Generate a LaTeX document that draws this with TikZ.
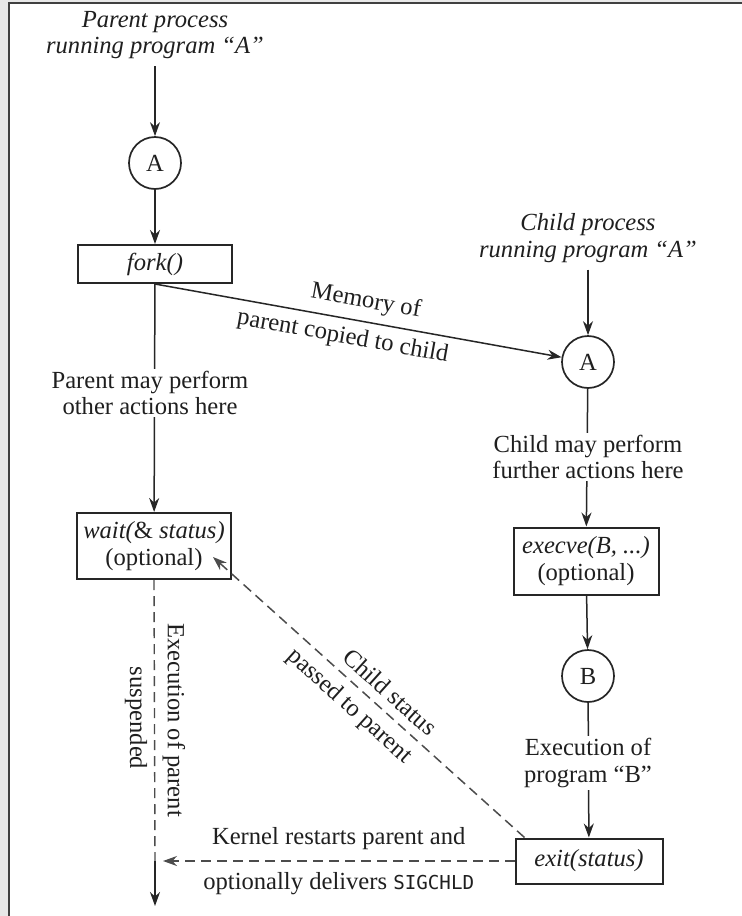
\documentclass[tikz,border=0pt]{standalone}
\usepackage{fontspec}
\setmainfont{Liberation Serif}
\newfontfamily\codefont{DejaVu Sans Mono}[Scale=0.78]
\usetikzlibrary{arrows.meta,calc}
\begin{document}
\begin{tikzpicture}[x=0.5pt,y=-0.5pt,
  font=\fontsize{12.3}{13.4}\selectfont,
  every node/.style={text=black!88, align=center},
  procbox/.style={draw=black!85, line width=1pt, inner sep=0pt},
  circnode/.style={circle, draw=black!85, line width=0.85pt, minimum size=26pt, inner sep=0pt},
  arr/.style={-{Stealth[length=7pt,width=5pt]}, line width=0.75pt, draw=black!85},
  dashline/.style={dash pattern=on 5pt off 3pt, line width=0.7pt, draw=black!70},
  gap/.style={fill=white, inner sep=1pt},
  slopelbl/.style={inner sep=0.5pt}]
  % page frame
  \useasboundingbox (0,0) rectangle (742,916);
  \fill[black!9] (0,0) rectangle (742,916);
  \fill[white] (9,3) rectangle (742,916);
  \draw[black!75, line width=0.8pt] (9,916) -- (9,3) -- (742,3);

  % parent column
  \node (parentlbl) at (155,35) {\itshape Parent process\\\itshape running program “A”};
  \node[circnode] (cA1) at (155,163) {A};
  \node[procbox, minimum width=77pt, minimum height=19pt] (fork) at (155,264) {\itshape fork()};
  \node[procbox, minimum width=77pt, minimum height=33pt] (wait) at (154,546)
    {\itshape wait(\upshape\&\itshape\ status)\\(optional)};

  % child column
  \node (childlbl) at (588,238) {\itshape Child process\\\itshape running program “A”};
  \node[circnode] (cA2) at (588,362) {A};
  \node[procbox, minimum width=72.5pt, minimum height=33.5pt] (execve) at (586,561)
    {\itshape execve(B, ...)\\(optional)};
  \node[circnode] (cB) at (588,676) {B};
  \node[procbox, minimum width=73.5pt, minimum height=22.5pt] (exit) at (589,861) {\itshape exit(status)};

  \coordinate (waitin) at ($(wait.east)+(-19,11)$);
  \coordinate (exitcorner) at ($(exit.north west)+(10,0)$);
  \coordinate (kend) at (163,861);
  \coordinate (resume) at (155,861);
  \coordinate (pend) at (155,906);

  % parent connectors
  \draw[arr] (parentlbl) -- (cA1);
  \draw[arr] (cA1) -- (fork);
  \draw[arr] (fork) -- (wait);
  \node[gap] (pmp) at (150,393) {Parent may perform\\other actions here};
  \draw[dashline] (wait.south) -- (resume);
  \draw[arr] (resume) -- (pend);
  \node[rotate=-90, inner sep=0pt] (susp1) at (174,720) {Execution of parent};
  \node[rotate=-90, inner sep=0pt] (susp2) at (136,718) {suspended};

  % fork copies memory to child
  \draw[arr] (fork.south) -- (cA2)
    node[slopelbl, pos=0.51, sloped, above=3.5pt] {Memory of}
    node[slopelbl, pos=0.47, sloped, below=3pt] {parent copied to child};

  % child connectors
  \draw[arr] (childlbl) -- (cA2);
  \draw[arr] (cA2) -- (execve);
  \node[gap] (cmp) at (588,457) {Child may perform\\further actions here};
  \draw[arr] (execve) -- (cB);
  \draw[arr] (cB) -- (exit);
  \node[gap] (exb) at (588,763) {Execution of\\program “B”};

  % status returned to parent
  \draw[dashline, arr, draw=black!70] (exitcorner) -- (waitin)
    node[slopelbl, pos=0.47, sloped, above=4pt] {Child status}
    node[slopelbl, pos=0.52, sloped, below=3.5pt] {passed to parent};
  \draw[dashline, arr, draw=black!70] (exit.west) -- (kend)
    node[midway, above=2pt] {Kernel restarts parent and}
    node[midway, below=2pt] {optionally delivers \codefont SIGCHLD};
\end{tikzpicture}
\end{document}
